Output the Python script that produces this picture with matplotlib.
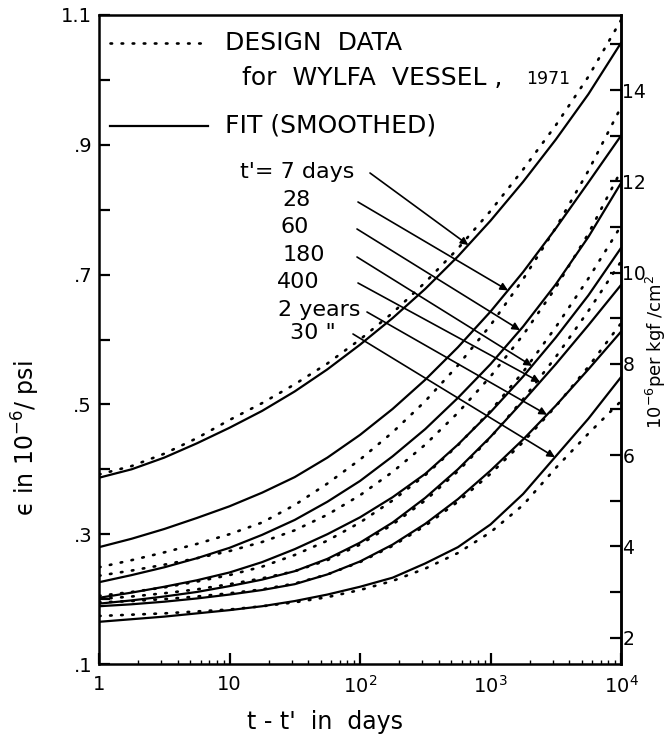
import numpy as np
import matplotlib
matplotlib.use("Agg")
import matplotlib.pyplot as plt
from matplotlib.ticker import FixedLocator, FixedFormatter, NullFormatter

plt.rcParams['font.family'] = ['DejaVu Sans']

# log10 of (t - t') in days where the curves are tabulated
log_days = [0.0, 0.25, 0.5, 0.75, 1.0, 1.25, 1.5, 1.75, 2.0, 2.25,
            2.5, 2.75, 3.0, 3.25, 3.5, 3.75, 4.0]

# smoothed fit, compliance in 1e-6 per psi, for each loading age t'
fit_7d = [0.387, 0.400, 0.418, 0.440, 0.464, 0.490, 0.520, 0.554, 0.592,
          0.633, 0.678, 0.728, 0.783, 0.843, 0.908, 0.978, 1.057]
fit_28d = [0.280, 0.293, 0.308, 0.325, 0.343, 0.364, 0.388, 0.418, 0.453,
           0.493, 0.538, 0.588, 0.643, 0.704, 0.771, 0.842, 0.914]
fit_60d = [0.226, 0.237, 0.249, 0.263, 0.279, 0.299, 0.322, 0.350, 0.382,
           0.420, 0.462, 0.510, 0.562, 0.620, 0.685, 0.758, 0.841]
fit_180d = [0.202, 0.210, 0.219, 0.229, 0.241, 0.257, 0.277, 0.300, 0.326,
            0.357, 0.393, 0.438, 0.488, 0.543, 0.603, 0.668, 0.741]
fit_400d = [0.193, 0.198, 0.204, 0.211, 0.220, 0.230, 0.243, 0.262, 0.287,
            0.318, 0.356, 0.400, 0.450, 0.505, 0.562, 0.622, 0.684]
fit_2y = [0.189, 0.192, 0.196, 0.201, 0.207, 0.214, 0.223, 0.238, 0.258,
          0.284, 0.316, 0.354, 0.398, 0.446, 0.498, 0.554, 0.612]
fit_30y = [0.165, 0.169, 0.173, 0.178, 0.183, 0.189, 0.197, 0.207, 0.219,
           0.233, 0.255, 0.280, 0.315, 0.362, 0.420, 0.478, 0.542]

# design data for the Wylfa vessel (1971), same units
design_7d = [0.392, 0.405, 0.424, 0.448, 0.476, 0.502, 0.531, 0.563, 0.600,
             0.641, 0.688, 0.740, 0.798, 0.862, 0.930, 1.005, 1.092]
design_28d = [0.249, 0.260, 0.272, 0.285, 0.300, 0.318, 0.345, 0.378, 0.415,
              0.457, 0.505, 0.560, 0.622, 0.693, 0.772, 0.860, 0.958]
design_60d = [0.236, 0.244, 0.253, 0.263, 0.274, 0.288, 0.306, 0.330, 0.360,
              0.396, 0.438, 0.487, 0.543, 0.607, 0.680, 0.763, 0.860]
design_180d = [0.205, 0.211, 0.218, 0.227, 0.237, 0.250, 0.268, 0.290, 0.318,
               0.352, 0.391, 0.437, 0.490, 0.550, 0.619, 0.694, 0.775]
design_400d = [0.200, 0.204, 0.209, 0.215, 0.223, 0.232, 0.243, 0.260, 0.284,
               0.315, 0.352, 0.397, 0.449, 0.508, 0.573, 0.644, 0.720]
design_2y = [0.195, 0.197, 0.200, 0.204, 0.209, 0.215, 0.224, 0.238, 0.257,
             0.282, 0.313, 0.350, 0.393, 0.442, 0.497, 0.558, 0.625]
design_30y = [0.174, 0.176, 0.178, 0.181, 0.184, 0.189, 0.195, 0.203, 0.214,
              0.228, 0.247, 0.271, 0.303, 0.345, 0.402, 0.455, 0.505]

age_labels = ["t'= 7 days", "28", "60", "180", "400", "2 years", '30 "']
# log10(t - t') where each label's arrow meets its fit curve
arrow_tip_log = [2.83, 3.134, 3.226, 3.318, 3.379, 3.433, 3.494]

left_ticks = [0.1, 0.2, 0.3, 0.4, 0.5, 0.6, 0.7, 0.8, 0.9, 1.0, 1.1]
left_ticklabels = [".1", "", ".3", "", ".5", "", ".7", "", ".9", "", "1.1"]
right_ticks = [2, 4, 6, 8, 10, 12, 14]
right_minor = [3, 5, 7, 9, 11, 13, 15]
x_ticks = [1, 10, 100, 1000, 10000]
x_ticklabels = ["1", "10", "10$^{2}$", "10$^{3}$", "10$^{4}$"]

PSI_PER_KGF_CM2 = 14.2233

fits = [fit_7d, fit_28d, fit_60d, fit_180d, fit_400d, fit_2y, fit_30y]
designs = [design_7d, design_28d, design_60d, design_180d, design_400d,
           design_2y, design_30y]

W, H = 668, 743
fig = plt.figure(figsize=(W / 100, H / 100), dpi=100)
ax_l, ax_r, ax_b, ax_t = 99, 621, 664, 15
ax = fig.add_axes([ax_l / W, 1 - ax_b / H, (ax_r - ax_l) / W, (ax_b - ax_t) / H])

DOTS = (0, (0.6, 3.6))

t = 10 ** np.array(log_days)
for f in fits:
    ax.plot(t, f, color='black', lw=1.6, solid_capstyle='round')
for d in designs:
    ax.plot(t, d, color='black', lw=1.9, linestyle=DOTS, dash_capstyle='round')

ax.set_xscale('log')
ax.set_xlim(1, 1e4)
ax.set_ylim(0.1, 1.1)

for s in ax.spines.values():
    s.set_linewidth(1.8)

ax.xaxis.set_major_locator(FixedLocator(x_ticks))
ax.xaxis.set_major_formatter(FixedFormatter(x_ticklabels))
ax.xaxis.set_minor_formatter(NullFormatter())
ax.tick_params(axis='x', which='major', direction='in', length=8, width=1.6,
               labelsize=14, pad=8, top=False)
ax.tick_params(axis='x', which='minor', direction='in', length=3, width=1.0,
               top=False)

ax.yaxis.set_major_locator(FixedLocator(left_ticks))
ax.yaxis.set_major_formatter(FixedFormatter(left_ticklabels))
ax.tick_params(axis='y', which='major', direction='in', length=8, width=1.6,
               labelsize=14, pad=5, right=False)

sec = ax.secondary_yaxis('right', functions=(lambda v: v * PSI_PER_KGF_CM2,
                                             lambda k: k / PSI_PER_KGF_CM2))
sec.yaxis.set_major_locator(FixedLocator(right_ticks))
sec.yaxis.set_minor_locator(FixedLocator(right_minor))
sec.yaxis.set_minor_formatter(NullFormatter())
sec.tick_params(which='major', direction='in', length=8, width=1.6,
                labelsize=13.5, pad=1)
sec.tick_params(which='minor', direction='in', length=8, width=1.6)
sec.spines['right'].set_linewidth(1.8)


def afrac(px, py):
    return ((px - ax_l) / (ax_r - ax_l), (ax_b - py) / (ax_b - ax_t))


tr = ax.transAxes

# axis titles
ax.text(*afrac(325, 722), "t - t'  in  days", transform=tr, fontsize=17,
        ha='center', va='center', clip_on=False)
ax.text(*afrac(26, 438), "\u03f5 in 10$^{-6}$/ psi", transform=tr,
        fontsize=17, rotation=90, ha='center', va='center', clip_on=False)
ax.text(*afrac(656, 352), "10$^{-6}$per kgf /cm$^{2}$", transform=tr,
        fontsize=13, rotation=90, ha='center', va='center', clip_on=False)

# key in the upper left corner
x0, y0 = afrac(110, 43)
x1, _ = afrac(208, 43)
ax.plot([x0, x1], [y0, y0], transform=tr, color='black', lw=1.9,
        linestyle=DOTS, dash_capstyle='round', clip_on=False)
x0, y0 = afrac(110, 126)
ax.plot([x0, x1], [y0, y0], transform=tr, color='black', lw=1.6)
ax.text(*afrac(225, 43), "DESIGN  DATA", transform=tr, fontsize=18,
        va='center', ha='left')
ax.text(*afrac(242, 78), "for  WYLFA  VESSEL ,", transform=tr, fontsize=18,
        va='center', ha='left')
ax.text(*afrac(526, 79), "1971", transform=tr, fontsize=12.5,
        va='center', ha='left')
ax.text(*afrac(225, 126), "FIT (SMOOTHED)", transform=tr, fontsize=18,
        va='center', ha='left')

# loading-age labels with arrows to their curves
label_pos = [(240, 172), (282, 200), (280, 227), (283, 255), (277, 282),
             (278, 310), (290, 333)]
arrow_start = [(370, 173), (358, 202), (357, 229), (357, 257), (358, 283),
               (367, 312), (353, 334)]
for lab, (px, py), (sx, sy), tl, f in zip(age_labels, label_pos, arrow_start,
                                          arrow_tip_log, fits):
    ax.text(*afrac(px, py), lab, transform=tr, fontsize=16, va='center',
            ha='left')
    tip_y = np.interp(tl, log_days, f)
    ax.annotate('', xy=(10 ** tl, tip_y), xycoords='data',
                xytext=afrac(sx, sy), textcoords='axes fraction',
                arrowprops=dict(arrowstyle='-|>', color='black', lw=1.2,
                                mutation_scale=11, shrinkA=0, shrinkB=0))

fig.savefig('out.png', dpi=100)
